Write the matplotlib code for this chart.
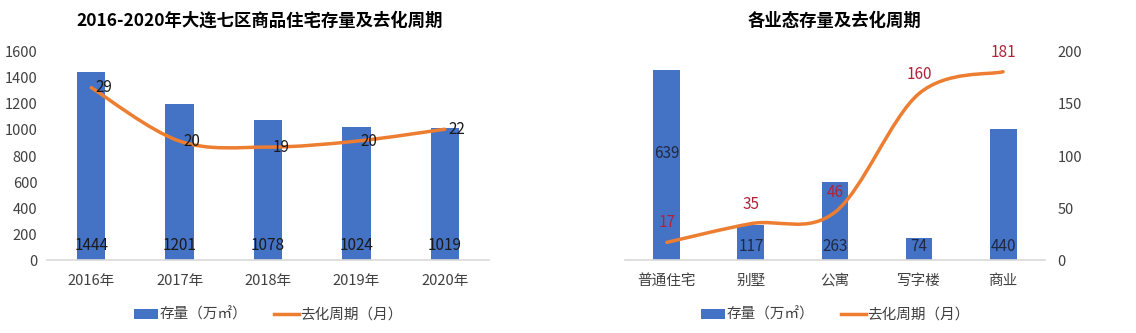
import numpy as np
import matplotlib
matplotlib.use("Agg")
import matplotlib.pyplot as plt
from matplotlib.path import Path
from matplotlib.patches import PathPatch, Patch
from matplotlib.lines import Line2D

plt.rcParams['font.family'] = ['Noto Sans CJK SC', 'DejaVu Sans']

# left chart data
years = ['2016年', '2017年', '2018年', '2019年', '2020年']
stock_years = [1444, 1201, 1078, 1024, 1019]
cycle_years = [29, 20, 19, 20, 22]

# right chart data
types = ['普通住宅', '别墅', '公寓', '写字楼', '商业']
stock_types = [639, 117, 263, 74, 440]
cycle_types = [17, 35, 46, 160, 181]

BLUE = '#4472C4'
ORANGE = '#ED7D31'
AXIS_GRAY = '#D9D9D9'
TEXT = '#404040'


def smooth_path(xs, ys):
    # catmull-rom style bezier, like excel's smoothed line
    p = np.column_stack([xs, ys]).astype(float)
    pts = np.vstack([p[0], p, p[-1]])
    verts = [p[0]]
    codes = [Path.MOVETO]
    for i in range(1, len(pts) - 2):
        c1 = pts[i] + (pts[i + 1] - pts[i - 1]) / 6
        c2 = pts[i + 1] - (pts[i + 2] - pts[i]) / 6
        verts += [c1, c2, pts[i + 1]]
        codes += [Path.CURVE4] * 3
    return Path(verts, codes)


def base_axes(ax, cats, ymax):
    ax.set_xlim(-0.5, len(cats) - 0.5)
    ax.set_ylim(0, ymax)
    for s in ['top', 'right', 'left']:
        ax.spines[s].set_visible(False)
    ax.spines['bottom'].set_color(AXIS_GRAY)
    ax.spines['bottom'].set_linewidth(1.2)
    ax.set_xticks(range(len(cats)))
    ax.set_xticklabels(cats, fontsize=10.5, color=TEXT)
    ax.tick_params(axis='both', length=0, pad=10)


def add_legend(ax):
    handles = [Patch(facecolor=BLUE, edgecolor='none'),
               Line2D([0], [0], color=ORANGE, lw=2.5)]
    ax.legend(handles, ['存量（万㎡）', '去化周期（月）'], loc='upper center',
              bbox_to_anchor=(0.5, -0.165), ncol=2, frameon=False,
              fontsize=10.5, handlelength=1.7, handletextpad=0.1,
              columnspacing=1.8, labelcolor=TEXT)


fig = plt.figure(figsize=(11.36, 3.33), dpi=100)

# ---- left chart
ax1 = fig.add_axes([0.0414, 0.219, 0.389, 0.625])
base_axes(ax1, years, 1600)
x = np.arange(len(years))
ax1.bar(x, stock_years, width=0.32, color=BLUE)
ax1.set_yticks(range(0, 1601, 200))
ax1.tick_params(axis='y', labelsize=10.5, labelcolor=TEXT, pad=7)
for xi, v in zip(x, stock_years):
    ax1.text(xi, 115, str(v), ha='center', va='center', fontsize=11, color='#1a1a1a')
ax1.set_title('2016-2020年大连七区商品住宅存量及去化周期', fontsize=12.5,
              fontweight='bold', pad=19, x=0.48)

ax1b = ax1.twinx()
ax1b.set_ylim(0, 35)
ax1b.axis('off')
ax1b.add_patch(PathPatch(smooth_path(x, cycle_years), fill=False,
                         edgecolor=ORANGE, lw=2.5, capstyle='round'))
for xi, v in zip(x, cycle_years):
    ax1b.annotate(str(v), (xi, v), xytext=(3, 0), textcoords='offset points',
                  ha='left', va='center', fontsize=11, color='#1a1a1a')
add_legend(ax1)

# ---- right chart
ax2 = fig.add_axes([0.550, 0.219, 0.370, 0.625])
base_axes(ax2, types, 700)
x2 = np.arange(len(types))
ax2.bar(x2, stock_types, width=0.32, color=BLUE)
ax2.set_yticks([])
for xi, v in zip(x2, stock_types):
    ypos = v * 0.56 if v > 500 else 47
    ax2.text(xi, ypos, str(v), ha='center', va='center', fontsize=11, color='#1F2A44')
ax2.set_title('各业态存量及去化周期', fontsize=12.5, fontweight='bold', pad=19)

ax2b = ax2.twinx()
ax2b.set_ylim(0, 200)
ax2b.set_yticks(range(0, 201, 50))
ax2b.tick_params(axis='y', length=0, labelsize=10.5, labelcolor=TEXT, pad=9)
for s in ['top', 'right', 'left', 'bottom']:
    ax2b.spines[s].set_visible(False)
ax2b.add_patch(PathPatch(smooth_path(x2, cycle_types), fill=False,
                         edgecolor=ORANGE, lw=2.5, capstyle='round'))
for xi, v in zip(x2, cycle_types):
    ax2b.annotate(str(v), (xi, v), xytext=(0, 14), textcoords='offset points',
                  ha='center', va='center', fontsize=11, color='#B0243A')
add_legend(ax2)

fig.savefig('out.png', dpi=100, facecolor='white')
